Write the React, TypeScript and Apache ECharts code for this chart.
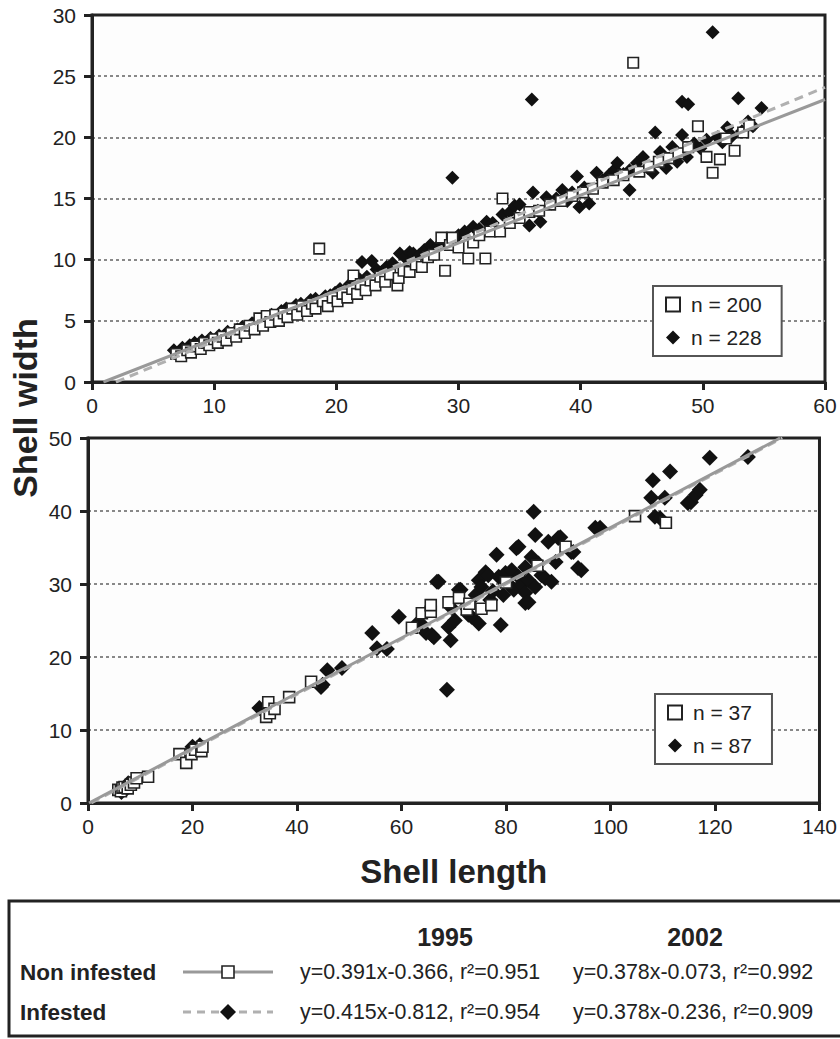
import React, { useEffect, useRef } from 'react';
import * as echarts from 'echarts';

// ---------- data ----------
const nonInfested1995: number[][] = [
  [6.9,2.3],[7.3,2.1],[7.8,2.6],[8.1,2.4],[8.5,2.9],[8.9,2.7],[9.2,3.2],[9.6,3.0],[10.0,3.5],[10.3,3.2],
  [10.7,3.7],[11.0,3.4],[11.4,4.0],[11.8,3.7],[12.1,4.3],[12.5,4.0],[12.9,4.6],[13.3,4.3],[13.7,5.2],[14.0,4.6],
  [14.3,5.4],[14.6,4.9],[15.0,5.5],[15.3,5.0],[15.7,5.6],[16.0,5.3],[16.4,6.0],[16.8,5.5],[17.2,6.2],[17.6,5.8],
  [18.0,6.4],[18.3,6.0],[18.6,10.9],[18.9,6.6],[19.3,6.2],[19.7,6.9],[20.1,6.6],[20.5,7.2],[20.9,6.9],[21.3,7.6],
  [21.4,8.7],[21.7,7.2],[22.0,8.0],[22.4,7.5],[22.8,8.3],[23.2,7.9],[23.6,8.6],[24.0,8.2],[24.4,8.8],[25.0,7.9],
  [25.1,8.5],[25.5,9.1],[26.0,9.0],[26.5,9.6],[27.0,9.4],[27.5,10.2],[28.0,10.4],[28.6,11.8],[28.9,9.1],[29.3,11.2],
  [29.5,11.8],[30.0,11.0],[30.8,10.1],[31.2,11.4],[31.7,12.0],[32.2,10.1],[32.6,12.3],[33.4,12.3],[33.6,15.0],[34.2,13.0],
  [35.0,13.4],[35.8,13.9],[36.6,14.0],[37.5,14.5],[38.4,14.8],[39.3,15.2],[40.2,15.5],[41.0,15.8],[41.8,16.3],[42.7,16.5],
  [43.5,16.9],[44.3,26.1],[44.8,17.2],[45.6,17.6],[46.4,18.0],[47.2,18.3],[48.0,18.7],[48.8,19.2],[49.6,20.9],[50.3,18.4],
  [50.8,17.1],[51.4,18.2],[51.9,19.9],[52.6,18.9],[53.3,20.4],[53.8,21.0]
];

const infested1995: number[][] = [
  [6.7,2.6],[7.0,2.3],[7.4,2.8],[7.7,2.5],[8.0,3.0],[8.4,3.2],[8.7,2.9],[9.0,3.4],[9.3,3.2],[9.7,3.6],
  [10.0,3.4],[10.4,3.8],[10.8,3.6],[11.1,4.1],[11.5,3.9],[11.9,4.3],[12.3,4.5],[12.7,4.4],[13.1,4.8],[13.5,5.0],
  [13.9,4.9],[14.3,5.3],[14.7,5.5],[15.1,5.4],[15.5,5.8],[15.9,6.0],[16.3,5.9],[16.7,6.3],[17.1,6.4],[17.5,6.2],
  [17.9,6.7],[18.3,6.8],[18.7,6.6],[19.1,7.0],[19.5,7.1],[19.9,7.3],[20.3,7.6],[20.7,7.5],[21.1,8.0],[21.5,8.1],
  [21.9,8.4],[22.1,9.8],[22.5,8.6],[22.9,9.9],[23.3,9.2],[23.7,9.0],[24.1,9.4],[24.6,9.7],[25.2,10.5],[25.6,10.2],
  [26.0,10.6],[26.3,10.5],[26.8,10.4],[27.2,10.8],[27.7,11.2],[28.2,11.0],[28.7,11.5],[29.1,11.7],[29.5,16.7],[30.0,12.0],
  [30.5,12.3],[31.2,12.7],[31.7,12.5],[32.3,13.1],[32.8,13.0],[33.6,13.7],[34.2,13.9],[34.6,14.4],[35.0,14.5],[35.8,12.8],
  [36.0,23.1],[36.1,15.5],[36.5,14.0],[36.7,13.1],[37.2,15.1],[37.6,14.6],[38.0,15.0],[38.5,15.7],[38.9,14.8],[39.3,15.5],
  [39.7,16.8],[39.9,14.3],[40.3,15.9],[40.7,14.6],[41.3,17.1],[41.8,16.5],[42.3,16.9],[42.8,17.4],[43.0,17.9],[43.5,17.0],
  [44.0,17.3],[44.0,15.7],[44.6,17.9],[45.1,18.4],[45.5,17.5],[45.9,17.1],[46.1,20.4],[46.5,18.8],[47.0,17.5],[47.5,19.2],
  [47.9,18.0],[48.3,20.2],[48.3,22.9],[48.7,18.4],[48.8,22.7],[49.3,19.5],[49.8,19.1],[50.3,19.8],[50.8,28.6],[51.2,20.0],
  [51.6,19.6],[52.0,20.8],[52.4,20.1],[52.9,23.2],[53.2,20.5],[53.7,21.3],[54.1,20.9],[54.8,22.4]
];

const nonInfested2002: number[][] = [
  [5.8,1.8],[6.3,1.6],[6.6,2.1],[7.0,2.2],[7.6,2.0],[8.2,2.5],[8.8,2.8],[9.3,3.4],[11.5,3.6],[17.5,6.7],
  [18.8,5.5],[19.8,6.7],[20.5,7.3],[21.7,7.1],[21.9,7.7],[34.1,11.8],[34.5,13.8],[34.8,12.3],[35.7,12.9],[38.5,14.5],
  [42.7,16.6],[62.0,24.0],[63.9,26.0],[65.6,26.2],[65.6,27.1],[69.0,27.5],[71.0,28.1],[72.5,26.5],[73.0,27.3],[75.3,26.6],
  [77.2,27.1],[80.0,30.2],[86.0,32.5],[91.4,35.1],[104.7,39.3],[110.6,38.4]
];

const infested2002: number[][] = [
  [6.4,1.5],[6.9,1.9],[7.4,2.0],[7.7,2.7],[20.0,7.7],[20.6,7.3],[21.4,7.9],[32.8,13.0],[33.6,12.6],[44.6,15.9],
  [44.9,16.2],[45.8,18.2],[48.6,18.5],[54.4,23.3],[55.3,21.2],[57.2,21.1],[59.5,25.5],[63.0,24.6],[63.7,24.6],[64.7,23.3],
  [65.8,23.0],[66.2,22.7],[66.8,30.3],[67.1,30.3],[68.7,15.5],[69.0,24.1],[69.4,22.3],[69.6,26.7],[70.2,25.0],[71.0,29.2],
  [71.3,29.2],[72.3,26.8],[72.8,25.8],[73.4,25.5],[74.2,28.5],[74.8,24.6],[74.8,30.5],[75.3,29.6],[76.1,31.6],[76.6,31.2],
  [77.0,27.8],[77.5,29.0],[78.2,34.0],[78.6,31.0],[79.0,24.4],[79.5,28.5],[79.9,31.5],[80.5,30.0],[81.1,31.9],[81.5,29.2],
  [82.0,34.9],[82.4,31.0],[82.4,35.1],[83.0,30.0],[83.7,32.3],[83.7,28.8],[83.7,27.4],[84.3,30.5],[84.3,27.5],[84.9,33.7],
  [85.3,39.9],[85.6,36.7],[85.6,29.6],[86.2,32.8],[86.8,31.2],[87.5,30.8],[88.1,35.8],[88.7,30.3],[89.5,33.0],[90.0,36.3],
  [90.4,36.4],[92.5,34.4],[92.9,34.4],[93.8,32.2],[94.4,31.9],[97.1,37.7],[98.0,37.7],[107.8,41.8],[108.1,44.2],[108.5,39.2],
  [109.5,39.0],[110.4,41.8],[111.4,45.4],[114.8,41.1],[115.4,41.2],[116.3,42.2],[117.1,42.9],[119.0,47.3],[126.3,47.4]
];

// regression fits [slope, intercept]
const fitNonInfested1995 = [0.391, -0.366];
const fitInfested1995 = [0.415, -0.812];
const fitNonInfested2002 = [0.378, -0.073];
const fitInfested2002 = [0.378, -0.236];

const topXTicks = [0, 60, 10];
const topYTicks = [0, 30, 5];
const botXTicks = [0, 140, 20];
const botYTicks = [0, 50, 10];

const legendTop = ['n = 200', 'n = 228'];
const legendBottom = ['n = 37', 'n = 87'];
const tableYears = ['1995', '2002'];
const tableRows = ['Non infested', 'Infested'];
const r2 = [[0.951, 0.992], [0.954, 0.909]];

// ---------- helpers ----------
const FONT = 'Liberation Sans, Arial, Helvetica, sans-serif';
const INK = '#222';

function fitLine(fit: number[], xMax: number, yMax: number): number[][] {
  const [a, b] = fit;
  const x0 = -b / a;
  let x1 = xMax;
  let y1 = a * x1 + b;
  if (y1 > yMax) { y1 = yMax; x1 = (yMax - b) / a; }
  return [[x0, 0], [x1, y1]];
}

function eqText(fit: number[], r: number) {
  const [a, b] = fit;
  const sign = b < 0 ? '-' : '+';
  return `y=${a.toFixed(3)}x${sign}${Math.abs(b).toFixed(3)}, r²=${r.toFixed(3)}`;
}

function xAxis(gridIndex: number, t: number[], extra: any = {}) {
  return {
    type: 'value', gridIndex, min: t[0], max: t[1], interval: t[2],
    axisLine: { show: true, onZero: false, lineStyle: { color: INK, width: 3 } },
    axisTick: { show: true, inside: false, length: 8, lineStyle: { color: INK, width: 3 } },
    axisLabel: { fontSize: 21, color: INK, fontFamily: FONT, margin: 13 },
    splitLine: { show: false },
    ...extra,
  };
}
function yAxis(gridIndex: number, t: number[]) {
  return {
    type: 'value', gridIndex, min: t[0], max: t[1], interval: t[2],
    axisLine: { show: true, onZero: false, lineStyle: { color: INK, width: 3 } },
    axisTick: { show: true, inside: false, length: 8, lineStyle: { color: INK, width: 3 } },
    axisLabel: { fontSize: 21, color: INK, fontFamily: FONT, margin: 16 },
    splitLine: { show: true, showMinLine: false, showMaxLine: false, lineStyle: { color: '#888', width: 2, type: [3, 3] } },
  };
}

function scatterSquares(name: string, data: number[][], idx: number, size: number) {
  return {
    name, type: 'scatter', xAxisIndex: idx, yAxisIndex: idx, data,
    symbol: 'rect', symbolSize: size, z: 4,
    itemStyle: { color: '#ffffff', borderColor: INK, borderWidth: 1.6, opacity: 1 },
  };
}
function scatterDiamonds(name: string, data: number[][], idx: number, size: number) {
  return {
    name, type: 'scatter', xAxisIndex: idx, yAxisIndex: idx, data,
    symbol: 'diamond', symbolSize: size, z: 3,
    itemStyle: { color: '#111111', opacity: 1 },
  };
}
function lineSeries(name: string, data: number[][], idx: number, dashed: boolean) {
  return {
    name, type: 'line', xAxisIndex: idx, yAxisIndex: idx, data,
    symbol: 'none', z: dashed ? 5 : 6, silent: true,
    lineStyle: dashed ? { color: '#b0b0b0', width: 3, type: [9, 6] } : { color: '#999999', width: 3 },
  };
}

function legendBox(names: string[], left: number, top: number) {
  return {
    data: [
      { name: names[0], icon: 'rect' },
      { name: names[1], icon: 'diamond' },
    ],
    orient: 'vertical', left, top,
    padding: [8, 20, 8, 12], itemGap: 12, itemWidth: 14, itemHeight: 14,
    borderColor: '#555', borderWidth: 2, backgroundColor: '#fff',
    textStyle: { fontSize: 21, color: INK, fontFamily: FONT, padding: [0, 0, 0, 6] },
    selectedMode: false,
  };
}

export default function App() {
  const ref = useRef<HTMLDivElement>(null);
  useEffect(() => {
    if (!ref.current) return;
    const chart = echarts.init(ref.current, null, { renderer: 'svg' });

    const rowY = [972, 1012];
    const colX = [300, 573];
    const fits = [[fitNonInfested1995, fitNonInfested2002], [fitInfested1995, fitInfested2002]];
    const tableTexts: any[] = [];
    tableYears.forEach((yr, i) => {
      tableTexts.push({ type: 'text', x: [445, 695][i], y: 937,
        style: { text: yr, fontSize: 25, fontWeight: 'bold', fontFamily: FONT, fill: INK, align: 'center', verticalAlign: 'middle' } });
    });
    tableRows.forEach((rw, r) => {
      tableTexts.push({ type: 'text', x: 20, y: rowY[r],
        style: { text: rw, fontSize: 22.5, fontWeight: 'bold', fontFamily: FONT, fill: INK, align: 'left', verticalAlign: 'middle' } });
      for (let c = 0; c < 2; c++) {
        tableTexts.push({ type: 'text', x: colX[c], y: rowY[r],
          style: { text: eqText(fits[r][c], r2[r][c]), fontSize: 21.4, fontFamily: FONT, fill: INK, align: 'left', verticalAlign: 'middle' } });
      }
    });

    const option: any = {
      animation: false,
      backgroundColor: '#ffffff',
      grid: [
        { left: 92, right: 15, top: 15, height: 367, show: true, borderColor: INK, borderWidth: 3, backgroundColor: '#fdfdfd' },
        { left: 88, right: 18, top: 438, height: 365, show: true, borderColor: INK, borderWidth: 3, backgroundColor: '#fdfdfd' },
      ],
      xAxis: [
        xAxis(0, topXTicks),
        xAxis(1, botXTicks, {
          name: 'Shell length', nameLocation: 'middle', nameGap: 52,
          nameTextStyle: { fontSize: 33, fontWeight: 'bold', color: INK, fontFamily: FONT },
        }),
      ],
      yAxis: [yAxis(0, topYTicks), yAxis(1, botYTicks)],
      legend: [legendBox(legendTop, 653, 286), legendBox(legendBottom, 655, 694)],
      series: [
        scatterDiamonds(legendTop[1], infested1995, 0, 14),
        scatterSquares(legendTop[0], nonInfested1995, 0, 10.5),
        lineSeries('fitInf1995', fitLine(fitInfested1995, 60, 30), 0, true),
        lineSeries('fitNon1995', fitLine(fitNonInfested1995, 60, 30), 0, false),
        scatterDiamonds(legendBottom[1], infested2002, 1, 16),
        scatterSquares(legendBottom[0], nonInfested2002, 1, 11),
        lineSeries('fitInf2002', fitLine(fitInfested2002, 140, 50), 1, true),
        lineSeries('fitNon2002', fitLine(fitNonInfested2002, 140, 50), 1, false),
      ],
      graphic: [
        { type: 'text', x: 25, y: 408, rotation: Math.PI / 2,
          style: { text: 'Shell width', fontSize: 34, fontWeight: 'bold', fontFamily: FONT, fill: INK, align: 'center', verticalAlign: 'middle' } },
        { type: 'rect', shape: { x: 9, y: 901, width: 850, height: 135 },
          style: { fill: '#fff', stroke: INK, lineWidth: 3 } },
        { type: 'line', shape: { x1: 183, y1: 972, x2: 273, y2: 972 }, style: { stroke: '#999', lineWidth: 3 } },
        { type: 'rect', shape: { x: 222, y: 966, width: 12, height: 12 }, style: { fill: '#fff', stroke: INK, lineWidth: 1.6 } },
        { type: 'line', shape: { x1: 183, y1: 1012, x2: 273, y2: 1012 }, style: { stroke: '#b0b0b0', lineWidth: 3, lineDash: [8, 6] } },
        { type: 'polygon', shape: { points: [[228, 1004], [236, 1012], [228, 1020], [220, 1012]] }, style: { fill: '#111' } },
        ...tableTexts,
      ],
    };
    chart.setOption(option);
    return () => chart.dispose();
  }, []);
  return <div ref={ref} style={{ position: 'absolute', left: 0, top: 0, width: 840, height: 1039 }} />;
}
